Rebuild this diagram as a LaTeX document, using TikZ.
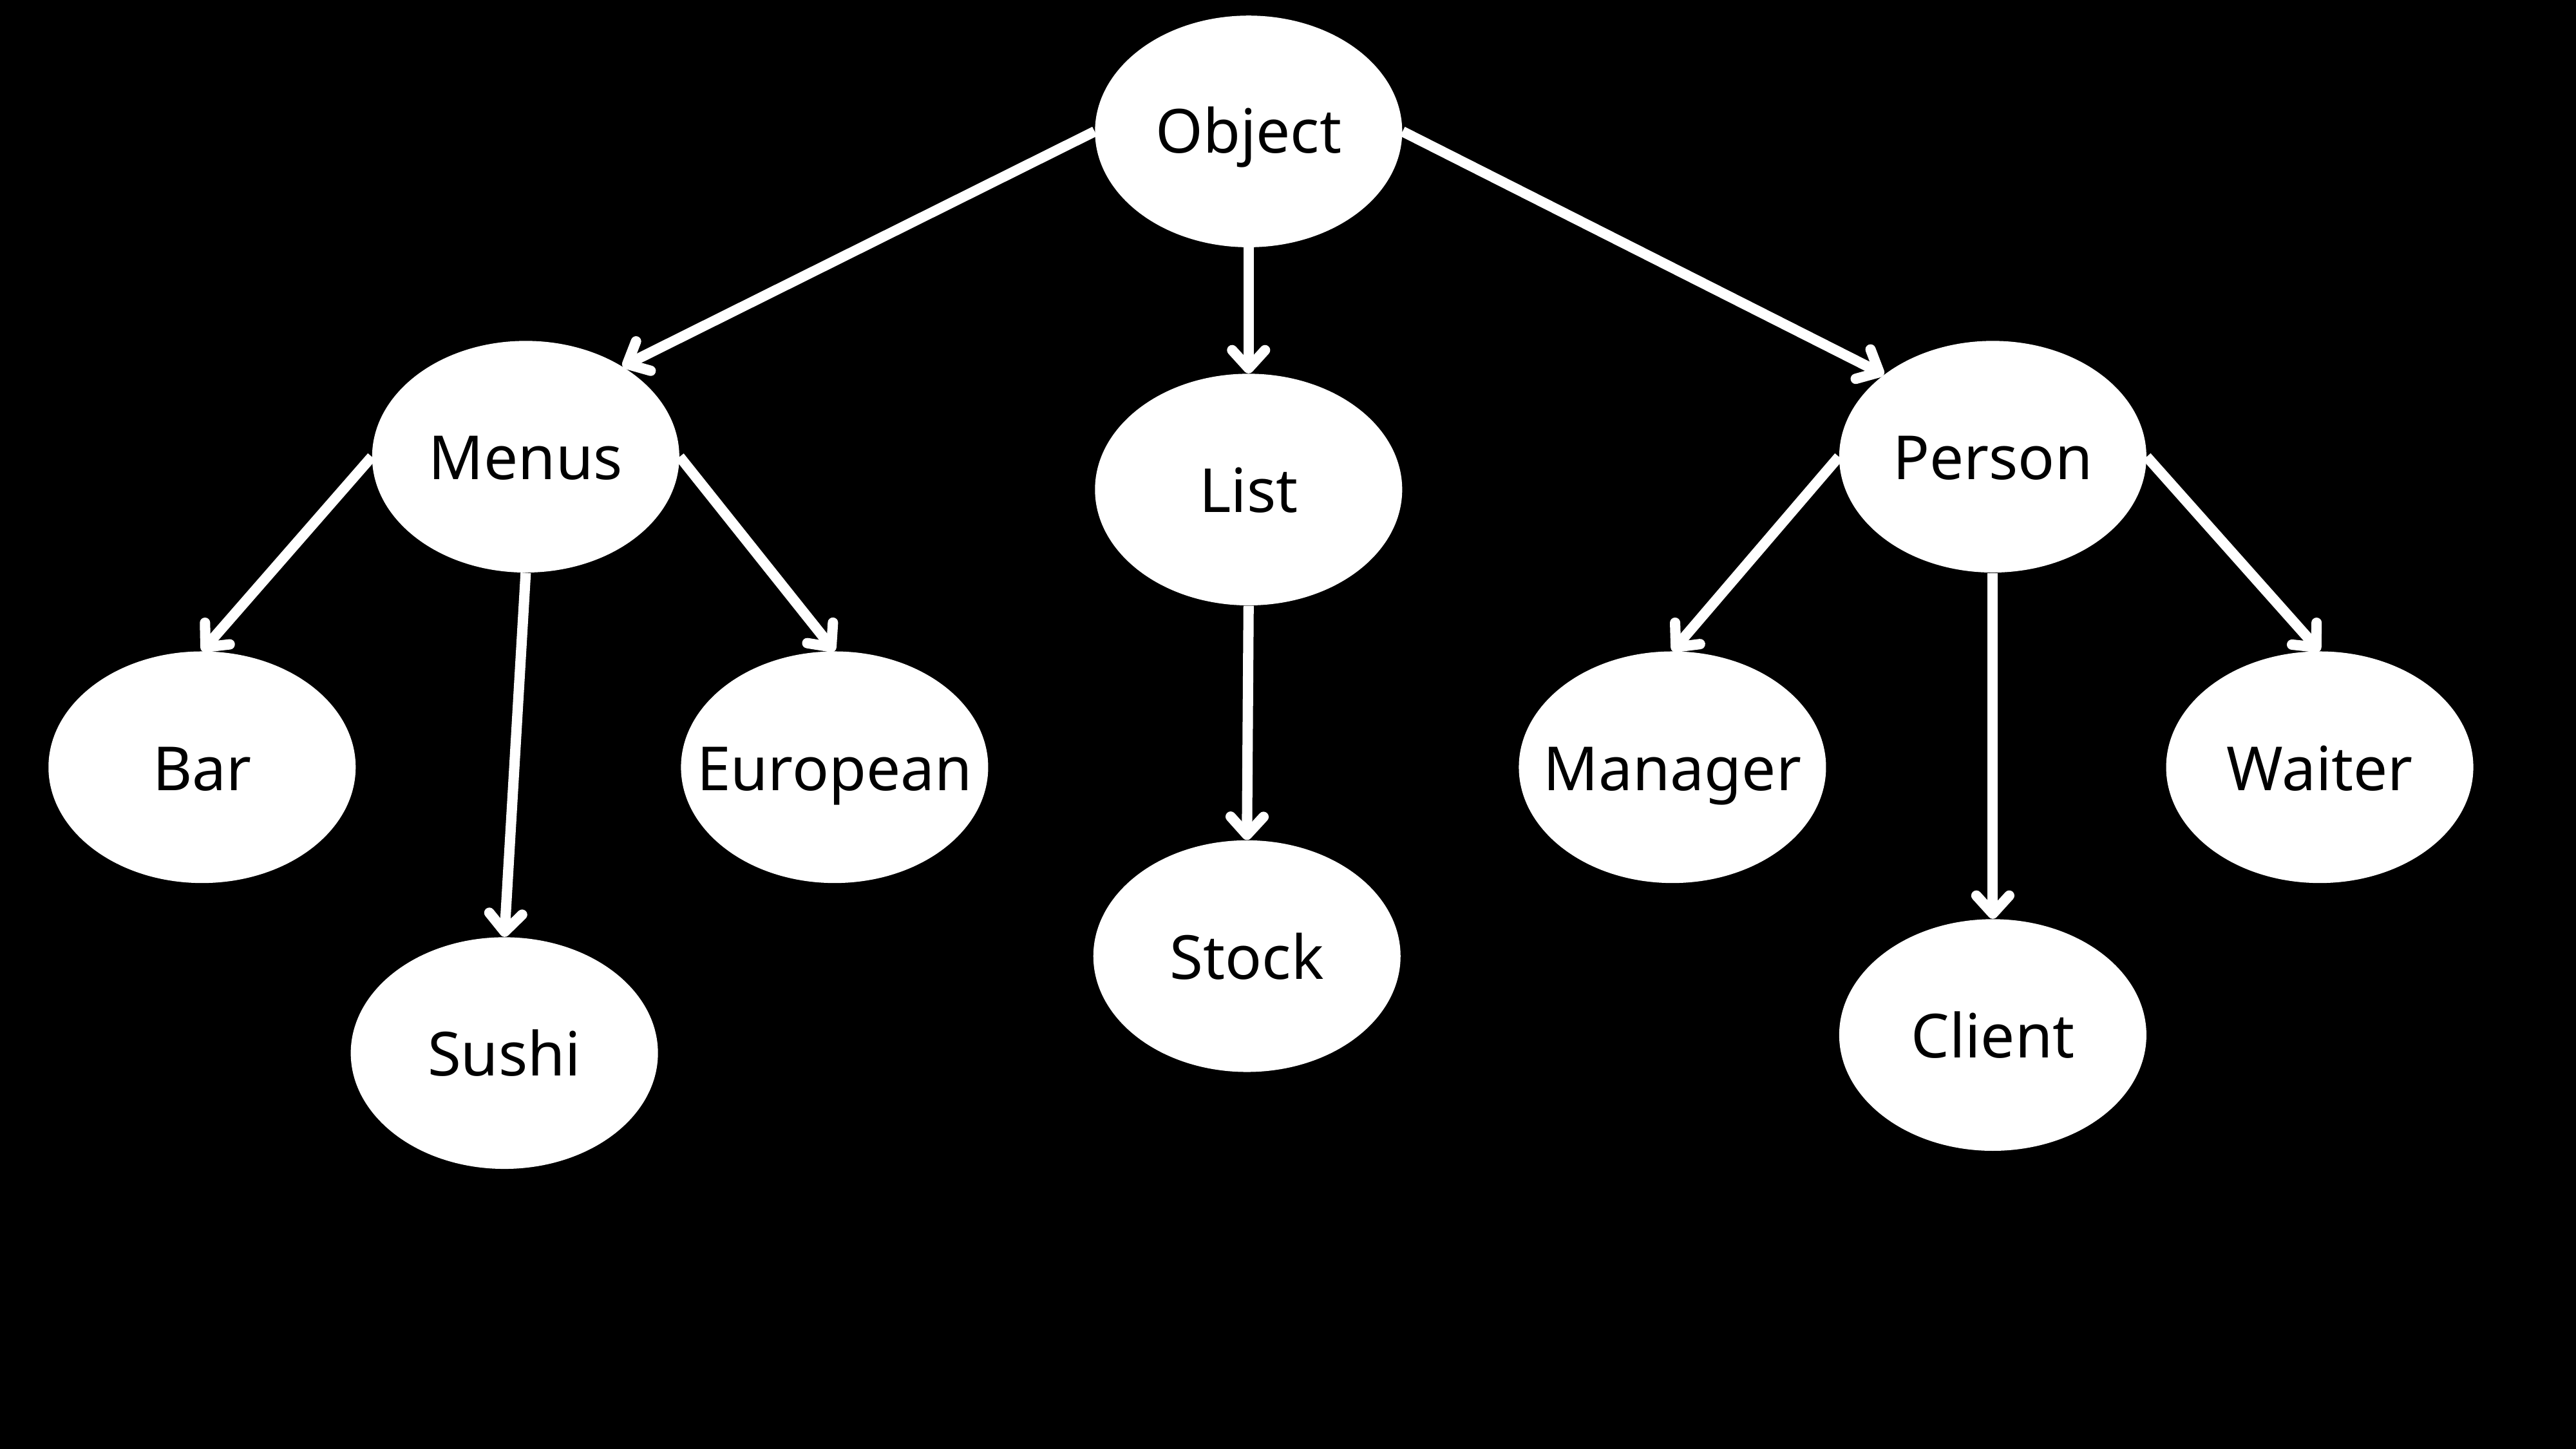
\documentclass[tikz,border=0pt]{standalone}
\usepackage{fontspec}
\setmainfont{Noto Sans}
\usetikzlibrary{arrows.meta,shapes.geometric}
\begin{document}
\begin{tikzpicture}[x=1pt,y=-1pt,
  ell/.style={ellipse,fill=white,draw=none,minimum width=187pt,minimum height=141pt,inner sep=0pt},
  lbl/.style={anchor=base,text=black,inner sep=0pt,font=\fontsize{37}{40}\selectfont},
  conn/.style={draw=white,line width=6.3pt,line cap=butt,
    -{Straight Barb[length=11pt,width=20pt,round]}}]
\fill[black] (0,0) rectangle (1568,882);
\useasboundingbox (0,0) rectangle (1568,882);
% ellipses
\node[ell] (obj) at (760,80) {};
\node[ell] (men) at (320,278) {};
\node[ell] (lst) at (760,298) {};
\node[ell] (per) at (1213,278) {};
\node[ell] (bar) at (123,467) {};
\node[ell] (eur) at (508,467) {};
\node[ell] (sus) at (307,641) {};
\node[ell] (stk) at (759,582) {};
\node[ell] (man) at (1018,467) {};
\node[ell] (wai) at (1412,467) {};
\node[ell] (cli) at (1213,630) {};
% labels
\node[lbl] (objt) at (760,93) {Object};
\node[lbl] (ment) at (320,292) {Menus};
\node[lbl] (lstt) at (760,312) {List};
\node[lbl] (pert) at (1213,292) {Person};
\node[lbl] (bart) at (123,481) {Bar};
\node[lbl] (eurt) at (508,481) {European};
\node[lbl] (sust) at (307,655) {Sushi};
\node[lbl] (stkt) at (759,596) {Stock};
\node[lbl] (mant) at (1018,481) {Manager};
\node[lbl] (wait) at (1412,481) {Waiter};
\node[lbl] (clit) at (1213,644) {Client};
% connectors
\draw[conn] (obj.west) -- (men.43);
\draw[conn] (obj.south) -- (lst.north);
\draw[conn] (obj.east) -- (per.143);
\draw[conn] (men.west) -- (bar.north);
\draw[conn] (men.south) -- (sus.north);
\draw[conn] (men.east) -- (eur.north);
\draw[conn] (lst.south) -- (stk.north);
\draw[conn] (per.west) -- (man.north);
\draw[conn] (per.south) -- (cli.north);
\draw[conn] (per.east) -- (wai.north);
\end{tikzpicture}
\end{document}
